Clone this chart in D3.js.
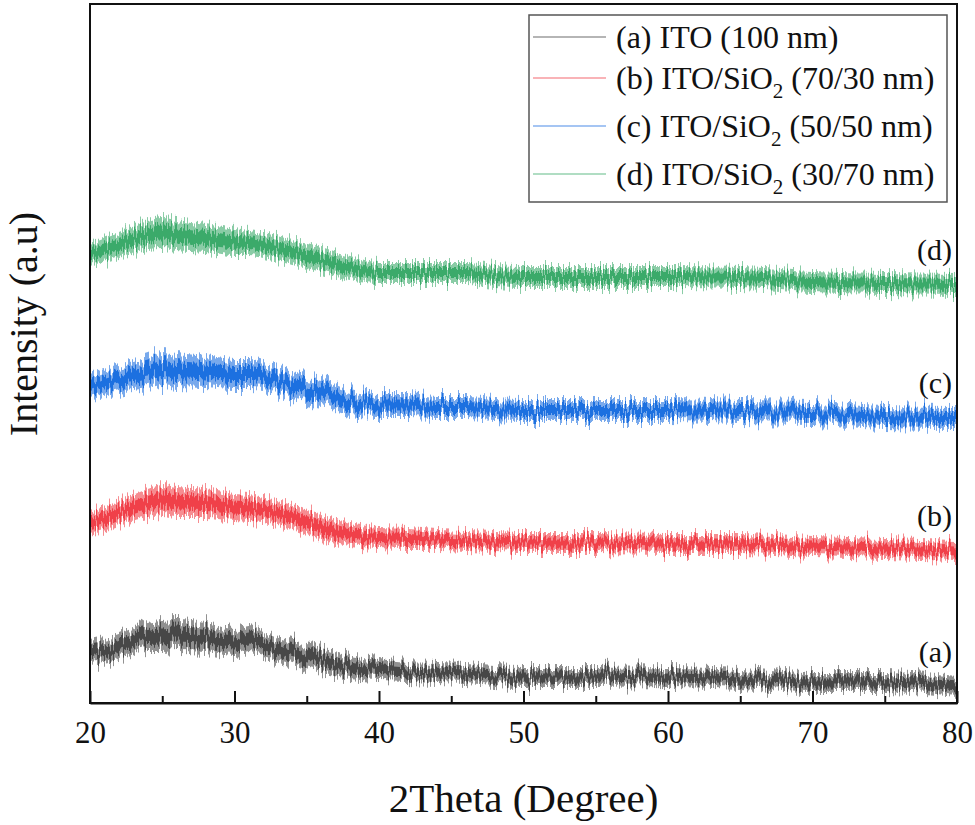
<!DOCTYPE html>
<html>
<head>
<meta charset="utf-8">
<script src="https://cdn.jsdelivr.net/npm/d3@7"></script>
<style>
  body { margin: 0; background: #fff; }
  text { font-family: "Liberation Serif", "Times New Roman", serif; fill: #111; }
</style>
</head>
<body>
<script>
// angulo 2Theta (grados) donde se leyeron los valores
let twoTheta = [20, 22, 24, 25, 26, 28, 30, 31, 32, 34, 36, 38, 40, 42, 44, 46, 48, 50, 55, 60, 65, 70, 75, 80];

// intensidad media (a.u., curvas ya desplazadas)
let serieA = [50, 56, 66, 67, 68, 66, 61, 65, 60, 51, 43, 36, 33, 31, 30, 29, 27, 26, 26, 27, 25, 21, 21, 16];
let serieB = [180, 190, 200, 203, 201, 200, 196, 195, 193, 186, 176, 168, 165, 164, 163, 162, 161, 160, 160, 159, 159, 156, 154, 152];
let serieC = [316, 325, 331, 335, 333, 331, 328, 328, 326, 316, 310, 301, 298, 298, 296, 296, 294, 293, 293, 293, 291, 290, 286, 285];
let serieD = [448, 458, 468, 470, 468, 465, 461, 460, 458, 451, 443, 435, 430, 430, 430, 430, 427, 426, 426, 426, 425, 421, 419, 418];

// ancho del ruido (mitad de la banda)
let ruidoA = [11, 12, 14, 15, 15, 14, 13, 13, 12, 12, 12, 11, 10, 9, 9, 9, 9, 9, 9, 9, 9, 9, 9, 9];
let ruidoB = [11, 12, 14, 15, 15, 14, 13, 13, 12, 12, 12, 11, 10, 10, 9, 9, 9, 9, 9, 9, 9, 9, 9, 9];
let ruidoC = [12, 13, 15, 16, 16, 15, 14, 14, 13, 13, 13, 12, 11, 11, 10, 10, 10, 10, 10, 10, 10, 10, 10, 10];
let ruidoD = [11, 12, 14, 15, 15, 14, 13, 12, 12, 12, 12, 11, 10, 10, 10, 10, 10, 10, 10, 10, 10, 10, 10, 10];

let nombres = ["(a) ITO (100 nm)", "(b) ITO/SiO_2 (70/30 nm)", "(c) ITO/SiO_2 (50/50 nm)", "(d) ITO/SiO_2 (30/70 nm)"];
let etiquetas = ["(a)", "(b)", "(c)", "(d)"];
let colores = ["#474747", "#f0404a", "#1f6fe0", "#3aaa6a"];

let ticksX = [20, 30, 40, 50, 60, 70, 80];
let ticksMenores = [25, 35, 45, 55, 65, 75];

function graficar() {
  let w = 975;
  let h = 825;
  let izq = 90, der = 957, arriba = 4, abajo = 703;

  let svg = d3.select("body").append("svg").attr("width", w).attr("height", h);

  let x = d3.scaleLinear().domain([20, 80]).range([izq, der]);
  let y = d3.scaleLinear().domain([0, 699]).range([abajo, arriba]);

  // filtro para que la banda tenga el aspecto dentado del ruido
  let defs = svg.append("defs");
  let f = defs.append("filter").attr("id", "ruido")
    .attr("x", "-1%").attr("y", "-60%").attr("width", "102%").attr("height", "220%");
  f.append("feTurbulence").attr("type", "fractalNoise")
    .attr("baseFrequency", "0.55 0.004").attr("numOctaves", 2).attr("seed", 7).attr("result", "t");
  let ct = f.append("feComponentTransfer").attr("in", "t").attr("result", "t2");
  ct.append("feFuncB").attr("type", "table").attr("tableValues", "0.5 0.5");
  ct.append("feFuncA").attr("type", "table").attr("tableValues", "1 1");
  f.append("feDisplacementMap").attr("in", "SourceGraphic").attr("in2", "t2")
    .attr("scale", 28).attr("xChannelSelector", "B").attr("yChannelSelector", "R");

  let series = [
    { v: serieA, r: ruidoA },
    { v: serieB, r: ruidoB },
    { v: serieC, r: ruidoC },
    { v: serieD, r: ruidoD },
  ];

  series.forEach(function (s, k) {
    let puntos = twoTheta.map(function (t, i) {
      return { t: t, v: s.v[i], r: s.r[i] };
    });

    let g = svg.append("g").attr("filter", "url(#ruido)");

    // banda exterior (picos)
    g.append("path")
      .datum(puntos)
      .attr("fill", colores[k])
      .attr("opacity", 0.6)
      .attr("d", d3.area()
        .curve(d3.curveMonotoneX)
        .x(function (d) { return x(d.t); })
        .y0(function (d) { return y(d.v - d.r); })
        .y1(function (d) { return y(d.v + d.r); }));

    // nucleo de la banda
    g.append("path")
      .datum(puntos)
      .attr("fill", colores[k])
      .attr("d", d3.area()
        .curve(d3.curveMonotoneX)
        .x(function (d) { return x(d.t); })
        .y0(function (d) { return y(d.v - d.r * 0.5); })
        .y1(function (d) { return y(d.v + d.r * 0.5); }));

    // etiqueta a la derecha
    svg.append("text")
      .text(etiquetas[k])
      .attr("x", 952)
      .attr("y", y(s.v[s.v.length - 1]) - 25)
      .attr("text-anchor", "end")
      .style("font-size", "30px");
  });

  // recortar lo que se salga del marco
  svg.append("rect").attr("x", 0).attr("y", 0).attr("width", izq - 1).attr("height", abajo).attr("fill", "#fff");
  svg.append("rect").attr("x", der + 1).attr("y", 0).attr("width", w - der).attr("height", abajo).attr("fill", "#fff");

  // marco
  svg.append("rect")
    .attr("x", izq).attr("y", arriba)
    .attr("width", der - izq).attr("height", abajo - arriba)
    .attr("fill", "none").attr("stroke", "#111").attr("stroke-width", 2);

  // eje x con marcas hacia adentro
  let ejeX = svg.append("g")
    .attr("transform", "translate(0," + abajo + ")")
    .call(d3.axisBottom(x).tickValues(ticksX).tickSizeInner(-12).tickSizeOuter(0).tickPadding(18)
      .tickFormat(d3.format("d")));
  ejeX.select(".domain").attr("stroke", "#111").attr("stroke-width", 2);
  ejeX.selectAll(".tick line").attr("stroke", "#111").attr("stroke-width", 2);
  ejeX.selectAll("text").style("font-size", "31px").attr("fill", "#111")
    .style("font-family", "'Liberation Serif', 'Times New Roman', serif");

  let menores = svg.append("g")
    .attr("transform", "translate(0," + abajo + ")")
    .call(d3.axisBottom(x).tickValues(ticksMenores).tickSizeInner(-7).tickSizeOuter(0).tickFormat(""));
  menores.select(".domain").remove();
  menores.selectAll(".tick line").attr("stroke", "#111").attr("stroke-width", 2);

  // titulos de ejes
  svg.append("text")
    .text("2Theta (Degree)")
    .attr("x", (izq + der) / 2)
    .attr("y", 812)
    .attr("text-anchor", "middle")
    .style("font-size", "41px");

  svg.append("text")
    .text("Intensity (a.u)")
    .attr("transform", "translate(37," + 324 + ") rotate(-90)")
    .attr("text-anchor", "middle")
    .style("font-size", "40px");

  // leyenda
  let ley = svg.append("g");
  ley.append("rect")
    .attr("x", 529).attr("y", 15).attr("width", 418).attr("height", 187)
    .attr("fill", "#fff").attr("stroke", "#555").attr("stroke-width", 1.5);

  let filas = [48, 89, 137, 185];
  nombres.forEach(function (n, k) {
    ley.append("line")
      .attr("x1", 533).attr("x2", 606)
      .attr("y1", filas[k] - 11).attr("y2", filas[k] - 11)
      .attr("stroke", colores[k]).attr("stroke-width", 1.2).attr("opacity", 0.8);

    let partes = n.split("_2");
    let t = ley.append("text")
      .attr("x", 616).attr("y", filas[k])
      .style("font-size", "32px");
    t.append("tspan").text(partes[0]);
    if (partes.length > 1) {
      t.append("tspan").text("2").attr("dy", 9).style("font-size", "21px");
      t.append("tspan").text(partes[1]).attr("dy", -9);
    }
  });
}

graficar();
</script>
</body>
</html>
